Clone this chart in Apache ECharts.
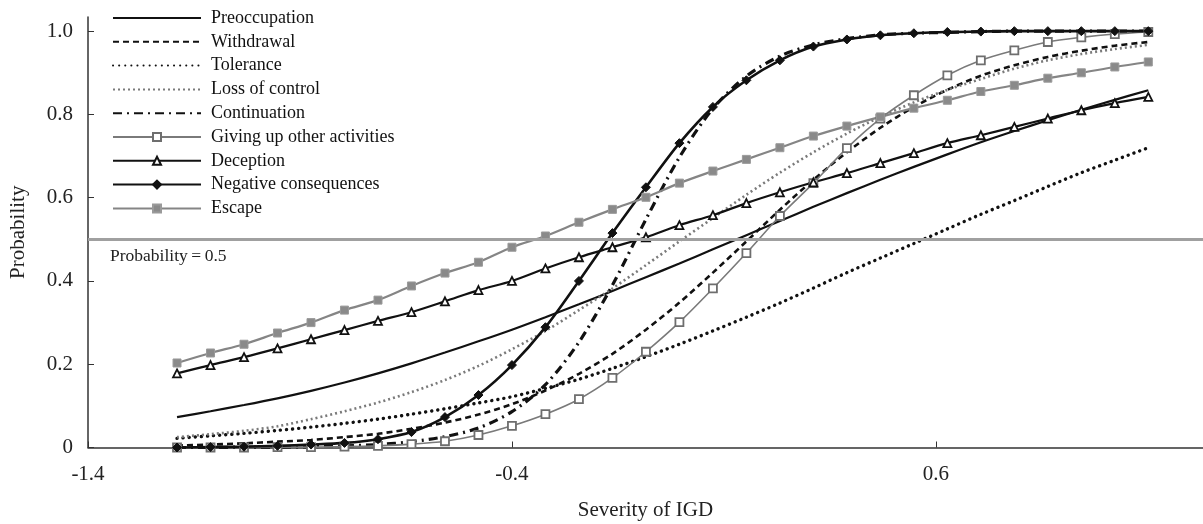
<!DOCTYPE html>
<html>
<head>
<meta charset="utf-8">
<script src="https://cdn.jsdelivr.net/npm/echarts@6/dist/echarts.min.js"></script>
<style>
html,body{margin:0;padding:0;background:#fff;}
#chart{width:1203px;height:524px;}
</style>
</head>
<body>
<div id="chart"></div>
<script>
// Severity (theta) values of the plotted points
const severity = [-1.19, -1.111, -1.032, -0.953, -0.874, -0.795, -0.716, -0.637, -0.558, -0.479,
  -0.4, -0.321, -0.242, -0.163, -0.084, -0.005, 0.074, 0.153, 0.232, 0.311,
  0.39, 0.469, 0.548, 0.627, 0.706, 0.785, 0.864, 0.943, 1.022, 1.101];

const preoccupation = [0.073, 0.087, 0.102, 0.118, 0.136, 0.156, 0.178, 0.202, 0.228, 0.255,
  0.283, 0.313, 0.344, 0.376, 0.409, 0.442, 0.476, 0.51, 0.544, 0.578,
  0.611, 0.643, 0.674, 0.704, 0.733, 0.76, 0.786, 0.811, 0.835, 0.858];
const withdrawal = [0.005, 0.007, 0.01, 0.014, 0.018, 0.025, 0.033, 0.045, 0.06, 0.079,
  0.104, 0.137, 0.177, 0.225, 0.283, 0.348, 0.42, 0.495, 0.571, 0.643,
  0.709, 0.768, 0.818, 0.859, 0.893, 0.918, 0.938, 0.953, 0.965, 0.974];
const tolerance = [0.022, 0.028, 0.034, 0.041, 0.049, 0.058, 0.068, 0.08, 0.093, 0.107,
  0.122, 0.142, 0.164, 0.19, 0.218, 0.248, 0.28, 0.313, 0.347, 0.383,
  0.42, 0.455, 0.49, 0.525, 0.56, 0.593, 0.627, 0.66, 0.69, 0.72];
const lossOfControl = [0.025, 0.032, 0.04, 0.051, 0.068, 0.087, 0.108, 0.133, 0.162, 0.196,
  0.236, 0.28, 0.33, 0.382, 0.438, 0.495, 0.551, 0.607, 0.66, 0.709,
  0.754, 0.794, 0.829, 0.859, 0.885, 0.91, 0.93, 0.945, 0.957, 0.967];
const continuation = [0, 0, 0.001, 0.001, 0.002, 0.004, 0.007, 0.014, 0.026, 0.047,
  0.086, 0.151, 0.253, 0.39, 0.548, 0.697, 0.814, 0.892, 0.94, 0.967,
  0.982, 0.991, 0.995, 0.997, 0.999, 1, 1, 1, 1, 1];
const givingUp = [0, 0, 0, 0.001, 0.001, 0.002, 0.004, 0.008, 0.015, 0.03,
  0.052, 0.08, 0.116, 0.167, 0.23, 0.301, 0.382, 0.467, 0.556, 0.635,
  0.719, 0.79, 0.846, 0.894, 0.93, 0.954, 0.974, 0.985, 0.993, 0.998];
const deception = [0.178, 0.198, 0.217, 0.238, 0.26, 0.282, 0.304, 0.325, 0.351, 0.378,
  0.4, 0.43, 0.457, 0.481, 0.505, 0.534, 0.558, 0.587, 0.613, 0.637,
  0.659, 0.683, 0.707, 0.731, 0.75, 0.77, 0.79, 0.81, 0.827, 0.842];
const negativeConsequences = [0, 0.001, 0.002, 0.004, 0.007, 0.011, 0.02, 0.037, 0.073, 0.126,
  0.198, 0.289, 0.4, 0.515, 0.625, 0.731, 0.818, 0.882, 0.93, 0.963,
  0.98, 0.99, 0.995, 0.998, 0.999, 1, 1, 1, 1, 1];
const escape = [0.203, 0.227, 0.248, 0.275, 0.3, 0.33, 0.354, 0.388, 0.419, 0.445,
  0.481, 0.508, 0.541, 0.572, 0.601, 0.635, 0.664, 0.692, 0.72, 0.748,
  0.772, 0.794, 0.815, 0.834, 0.855, 0.87, 0.887, 0.9, 0.914, 0.926];

const xTickLabels = [-1.4, -0.4, 0.6];
const yTickLabels = [0, 0.2, 0.4, 0.6, 0.8, 1.0];
const referenceProbability = 0.5;

const FONT = '"Liberation Serif", "DejaVu Serif", serif';
const pairs = arr => severity.map((x, i) => [x, arr[i]]);

function lineSeries(name, data, style, extra) {
  return Object.assign({
    name: name,
    type: 'line',
    data: pairs(data),
    smooth: 0.3,
    symbol: 'none',
    showSymbol: false,
    lineStyle: style,
    itemStyle: { color: style.color },
    emphasis: { disabled: true },
    animation: false
  }, extra || {});
}

const series = [
  lineSeries('Preoccupation', preoccupation, { color: '#111', width: 2.2, type: 'solid' }),
  lineSeries('Withdrawal', withdrawal, { color: '#111', width: 2.6, type: [6, 4] }),
  lineSeries('Tolerance', tolerance, { color: '#111', width: 3.4, type: [0.1, 6], cap: 'round' }),
  lineSeries('Loss of control', lossOfControl, { color: '#7a7a7a', width: 2.6, type: [2, 3] }),
  lineSeries('Continuation', continuation, { color: '#111', width: 3.2, type: [9, 5, 2, 5] }),
  lineSeries('Giving up other activities', givingUp, { color: '#7a7a7a', width: 1.6, type: 'solid' }, {
    symbol: 'rect', showSymbol: true, symbolSize: 8,
    itemStyle: { color: '#fff', borderColor: '#6e6e6e', borderWidth: 1.8 }
  }),
  lineSeries('Deception', deception, { color: '#111', width: 2.2, type: 'solid' }, {
    symbol: 'triangle', showSymbol: true, symbolSize: 8,
    itemStyle: { color: '#fff', borderColor: '#111', borderWidth: 1.8 }
  }),
  lineSeries('Negative consequences', negativeConsequences, { color: '#111', width: 2.6, type: 'solid' }, {
    symbol: 'diamond', showSymbol: true, symbolSize: 9,
    itemStyle: { color: '#111', borderColor: '#111', borderWidth: 1 }
  }),
  lineSeries('Escape', escape, { color: '#858585', width: 2.2, type: 'solid' }, {
    symbol: 'rect', showSymbol: true, symbolSize: 8,
    itemStyle: { color: '#8a8a8a', borderColor: '#9a9a9a', borderWidth: 1 },
    markLine: {
      silent: true,
      symbol: 'none',
      label: { show: false },
      lineStyle: { color: '#a0a0a0', width: 3, type: 'solid' },
      data: [{ yAxis: referenceProbability }],
      animation: false
    }
  })
];

const noMarker = ['Preoccupation', 'Withdrawal', 'Tolerance', 'Loss of control', 'Continuation'];

const chart = echarts.init(document.getElementById('chart'), null, { renderer: 'canvas' });
chart.setOption({
  backgroundColor: '#fff',
  animation: false,
  textStyle: { fontFamily: FONT },
  grid: { left: 88, right: 0, top: 17, bottom: 76.5, containLabel: false, outerBoundsMode: 'none' },
  legend: {
    left: 112,
    top: 9,
    padding: 0,
    orient: 'vertical',
    itemWidth: 88,
    itemHeight: 10,
    itemGap: 5.8,
    selectedMode: false,
    textStyle: { fontFamily: FONT, fontSize: 18, color: '#111', lineHeight: 16, padding: [0, 0, 0, 5] },
    data: series.map(s => noMarker.indexOf(s.name) >= 0
      ? { name: s.name, itemStyle: { opacity: 0 } }
      : { name: s.name })
  },
  xAxis: {
    type: 'value',
    min: -1.4,
    max: 1.23,
    name: 'Severity of IGD',
    nameLocation: 'middle',
    nameGap: 52,
    nameTextStyle: { fontFamily: FONT, fontSize: 21, color: '#222' },
    axisLine: { show: true, onZero: false, lineStyle: { color: '#333', width: 1.5 } },
    axisTick: { show: true, inside: true, length: 6, lineStyle: { color: '#333' }, customValues: xTickLabels },
    axisLabel: { customValues: xTickLabels, fontFamily: FONT, fontSize: 21, color: '#222', margin: 16,
      formatter: v => String(Math.round(v * 10) / 10) },
    splitLine: { show: false }
  },
  yAxis: {
    type: 'value',
    min: 0,
    max: 1.034,
    name: 'Probability',
    nameLocation: 'middle',
    nameGap: 59,
    nameTextStyle: { fontFamily: FONT, fontSize: 21, color: '#222' },
    axisLine: { show: true, onZero: false, lineStyle: { color: '#333', width: 1.5 } },
    axisTick: { show: true, inside: true, length: 6, lineStyle: { color: '#333' }, customValues: yTickLabels },
    axisLabel: { customValues: yTickLabels, fontFamily: FONT, fontSize: 21, color: '#222', margin: 15,
      formatter: v => v === 0 ? '0' : v.toFixed(1) },
    splitLine: { show: false }
  },
  graphic: [{
    type: 'text',
    left: 110,
    top: 247,
    style: { text: 'Probability\u2009=\u20090.5', font: '17.5px ' + FONT, fill: '#222' }
  }],
  series: series
});
</script>
</body>
</html>
